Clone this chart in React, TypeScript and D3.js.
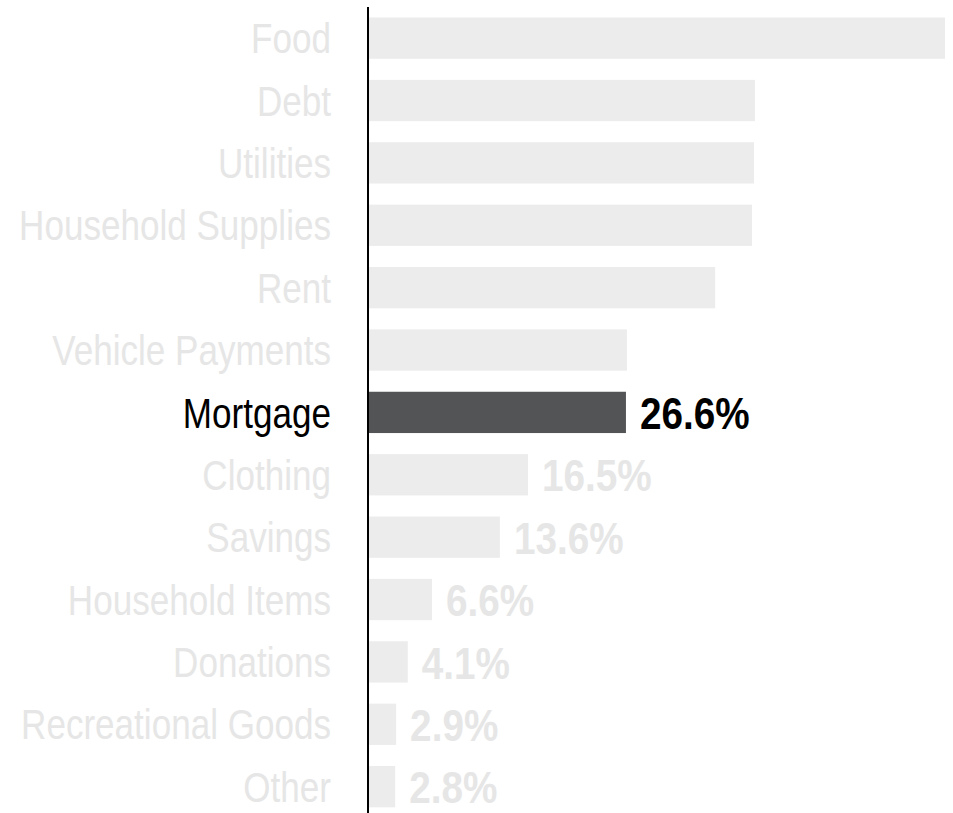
import React from "react";
import * as d3 from "d3";

const categories = [
  "Food",
  "Debt",
  "Utilities",
  "Household Supplies",
  "Rent",
  "Vehicle Payments",
  "Mortgage",
  "Clothing",
  "Savings",
  "Household Items",
  "Donations",
  "Recreational Goods",
  "Other",
];
const values = [59.5, 39.9, 39.8, 39.6, 35.8, 26.7, 26.6, 16.5, 13.6, 6.6, 4.1, 2.9, 2.8];
const valueLabels = ["", "", "", "", "", "", "26.6%", "16.5%", "13.6%", "6.6%", "4.1%", "2.9%", "2.8%"];
const highlight = "Mortgage";

const W = 953;
const H = 813;
const FONT = "'Liberation Sans', Arial, sans-serif";
const NARROW = 0.835;

export default function App() {
  const x = d3.scaleLinear().domain([0, d3.max(values) as number]).range([368, 945]);
  const y = d3.scaleBand<string>().domain(categories).range([17.5, 807.3]).paddingInner(0.338).paddingOuter(0);
  const bw = y.bandwidth();

  return (
    <svg width={W} height={H} style={{ position: "absolute", left: 0, top: 0, display: "block" }}>
      <rect x={0} y={0} width={W} height={H} fill="#ffffff" />
      {categories.map((c, i) => {
        const hi = c === highlight;
        const yy = y(c) as number;
        const cy = yy + bw / 2;
        return (
          <g key={c}>
            <rect x={x(0)} y={yy} width={x(values[i]) - x(0)} height={bw} fill={hi ? "#535456" : "#ececec"} />
            <text
              transform={`translate(331,${cy}) scale(${NARROW},1)`}
              dy="0.36em"
              textAnchor="end"
              fontFamily={FONT}
              fontSize={42}
              fill={hi ? "#000000" : "#e6e6e6"}
            >
              {c}
            </text>
            {valueLabels[i] && (
              <text
                transform={`translate(${x(values[i]) + 14},${cy}) scale(0.86,1)`}
                dy="0.37em"
                textAnchor="start"
                fontFamily={FONT}
                fontWeight="bold"
                fontSize={45}
                fill={hi ? "#000000" : "#e6e6e6"}
              >
                {valueLabels[i]}
              </text>
            )}
          </g>
        );
      })}
      <line x1={368} x2={368} y1={7} y2={H} stroke="#000000" strokeWidth={2} />
    </svg>
  );
}
